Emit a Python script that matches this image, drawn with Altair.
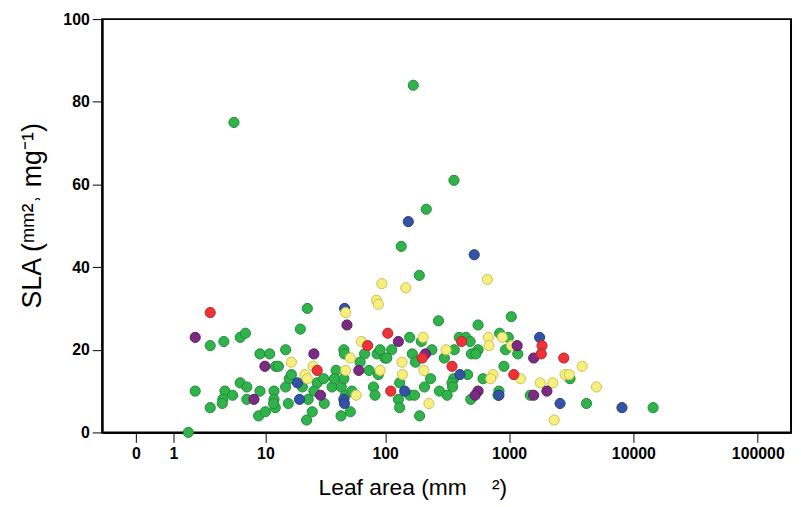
import altair as alt
import pandas as pd

# Leaf area (mm2) and SLA (mm2 mg-1) by group
green_area = [2.96, 4.1, 5.9, 6.6, 22.9, 20.0, 2.0, 2.96, 1.64, 8.95, 10.9, 15.0, 12.3, 13.0,
              46, 46.5, 68, 62.5, 74, 86, 99.5, 39.7, 88, 5.9, 4.2, 5.0, 4.0, 3.95, 6.8, 6.8,
              8.95, 8.7, 10.0, 11.9, 11.9, 12.2, 15.0, 16.1, 16.8, 15.8, 20.8, 23.3, 25.2, 22.6,
              27.7, 31.3, 31.7, 36.8, 43.8, 47.3, 53.6, 43.6, 52, 80.3, 82.7, 46, 38.5, 11.8, 26,
              270, 563, 1042, 158, 196, 397, 449, 486, 839, 985, 937, 1175, 91, 113, 103, 166,
              176, 239, 362, 301, 498, 563, 540, 464, 358, 347, 617, 909, 3092, 1483, 4198, 131,
              158, 173, 128, 131, 233, 208, 190, 275, 317, 351, 492, 829, 814,
              5.15, 169, 360, 215, 135, 189, 14400]
green_sla = [21, 22, 23, 24, 30, 25, 10, 6, 0, 19, 19, 20, 16, 16,
             20, 19, 19, 17, 15, 19, 18, 15, 14, 12, 10, 9, 8, 7, 11, 8,
             10, 4, 5, 10, 8, 6, 11, 13, 14, 7, 11, 8, 5, 3,
             12, 13, 7, 11, 11, 9, 10, 4, 5, 11, 9, 13, 13, 7, 10,
             27, 26, 28, 23, 22, 23, 23, 22, 24, 23, 20, 19, 20, 20, 18, 19,
             17, 20, 20, 18, 19, 20, 19, 14, 13, 12, 13, 16, 13, 9, 7, 12,
             9, 9, 8, 6, 13, 11, 4, 10, 9, 11, 8, 10, 9,
             75, 84, 61, 54, 45, 38, 6]

blue_area = [46.7, 18.9, 19.7, 46, 46.5, 1760, 402, 2572, 8091, 144, 829, 154, 524]
blue_sla = [30, 12, 8, 8, 7, 23, 14, 7, 6, 10, 9, 51, 43]

yellow_area = [47.6, 94, 85, 88, 64, 16.8, 25.6, 21.9, 22.9, 52, 47.6, 91, 58,
               147, 669, 203, 682, 689, 882, 1047, 3873, 137, 311, 742, 712, 1235,
               2820, 3050, 1782, 2250, 5047, 2306, 138, 206, 226]
yellow_sla = [29, 36, 32, 31, 22, 17, 16, 14, 13, 18, 15, 15, 9,
              35, 37, 23, 23, 21, 23, 21, 16, 17, 20, 14, 13, 13,
              14, 14, 12, 12, 11, 3, 14, 15, 7]

purple_area = [2.0, 48.8, 9.9, 26, 61, 7.9, 29.5, 128, 1162, 1578, 212, 2015, 1578, 563, 533]
purple_sla = [23, 26, 16, 19, 15, 8, 9, 22, 21, 18, 19, 10, 9, 10, 9]

red_area = [2.96, 105, 72, 27.7, 415, 1841, 1816, 2754, 200, 347, 1092, 111]
red_sla = [29, 24, 21, 15, 22, 21, 19, 18, 18, 16, 14, 10]

groups = ["green", "blue", "yellow", "purple", "red"]
fills = ["#2fb34a", "#3553a5", "#f6ef7b", "#7a2b83", "#ee3338"]
strokes = ["#22893a", "#263e80", "#c8bf5c", "#571d5e", "#b3252a"]

frames = []
for g, a, s in [("green", green_area, green_sla), ("blue", blue_area, blue_sla),
                ("yellow", yellow_area, yellow_sla), ("purple", purple_area, purple_sla),
                ("red", red_area, red_sla)]:
    frames.append(pd.DataFrame({"area": a, "sla": s, "group": g}))
df = pd.concat(frames, ignore_index=True)

x_ticks = [0, 1, 10, 100, 1000, 10000, 100000]
y_ticks = [0, 20, 40, 60, 80, 100]

FONT = "Liberation Sans"

chart = alt.Chart(df).mark_circle(size=105, opacity=1, strokeWidth=1).encode(
    x=alt.X("area:Q",
            scale=alt.Scale(type="symlog", constant=1, domain=[-0.866, 185000], nice=False),
            axis=alt.Axis(values=x_ticks, format="d", grid=False,
                          title="Leaf area (mm\u00a0\u00a0\u00a0\u00a0\u00b2)",
                          titleX=313, titleY=63, titleAlign="center",
                          titleBaseline="alphabetic", titleAnchor="start")),
    y=alt.Y("sla:Q",
            scale=alt.Scale(domain=[0, 100], nice=False),
            axis=alt.Axis(values=y_ticks, grid=False,
                          title="SLA (\u1d50\u1d50\u00b2\u02d2 mg\u207b\u00b9)",
                          titleX=-70, titleY=198, titleAngle=270, titleAlign="center",
                          titleBaseline="middle", titleAnchor="start",
                          titleFontSize=27)),
    color=alt.Color("group:N", scale=alt.Scale(domain=groups, range=fills), legend=None),
    stroke=alt.Stroke("group:N", scale=alt.Scale(domain=groups, range=strokes), legend=None),
).properties(
    width=695, height=417,
    autosize=alt.AutoSizeParams(type="none"),
    padding={"left": 95, "top": 9, "right": 2, "bottom": 72},
).configure_view(
    stroke="black", strokeWidth=2
).configure_axis(
    domainColor="black", domainWidth=2,
    tickColor="black", tickWidth=1, tickSize=10,
    labelFont=FONT, labelFontSize=16, labelFontWeight="bold", labelColor="black",
    labelPadding=3,
    titleFont=FONT, titleFontSize=23, titleFontWeight="normal", titleColor="black",
)

chart.save("out.html", embed_options={"renderer": "svg", "actions": False})
